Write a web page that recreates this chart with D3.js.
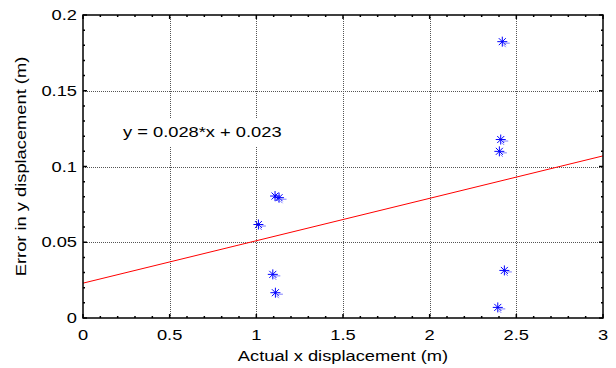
<!DOCTYPE html>
<html>
<head>
<meta charset="utf-8">
<script src="https://cdn.jsdelivr.net/npm/d3@7"></script>
<style>
  body { margin: 0; background: #fff; }
  text { font-family: Arial, "Liberation Sans", sans-serif; fill: #000; }
</style>
</head>
<body>
<div id="chart"></div>
<script>
// measured points (actual x displacement, error in y)
const xVals = [2.419, 2.410, 2.402, 2.431, 2.393, 1.108, 1.131, 1.012, 1.095, 1.110];
const yVals = [0.1824, 0.1178, 0.110, 0.0314, 0.0070, 0.0805, 0.0794, 0.0617, 0.0288, 0.0167];

// linear fit
const slope = 0.028;
const intercept = 0.023;
const fitLabel = 'y = 0.028*x + 0.023';

const xTicks = [0, 0.5, 1, 1.5, 2, 2.5, 3];
const yTicks = [0, 0.05, 0.1, 0.15, 0.2];
const xMinor = d3.range(0, 3.0001, 0.1);
const yMinor = d3.range(0, 0.2001, 0.01);

const width = 616, height = 368;
const margin = { left: 83, right: 13, top: 15, bottom: 50 };
const stretch = 1.22; // the original text is a bit wide

const svg = d3.select('#chart').append('svg')
  .attr('width', width)
  .attr('height', height);

const x = d3.scaleLinear().domain([0, 3]).range([margin.left, width - margin.right]);
const y = d3.scaleLinear().domain([0, 0.2]).range([height - margin.bottom, margin.top]);

const x0 = x.range()[0], x1 = x.range()[1];
const y0 = y.range()[0], y1 = y.range()[1];

// grid
const grid = svg.append('g')
  .attr('stroke', '#555')
  .attr('stroke-width', 1)
  .attr('stroke-dasharray', '1,1');
grid.selectAll('line.gx')
  .data(xTicks.slice(1, -1))
  .enter().append('line')
  .attr('x1', d => Math.round(x(d)) + 0.5).attr('x2', d => Math.round(x(d)) + 0.5)
  .attr('y1', y1).attr('y2', y0);
grid.selectAll('line.gy')
  .data(yTicks.slice(1, -1))
  .enter().append('line')
  .attr('y1', d => Math.round(y(d)) + 0.5).attr('y2', d => Math.round(y(d)) + 0.5)
  .attr('x1', x0).attr('x2', x1);

// fit line
svg.append('line')
  .attr('x1', x(0)).attr('y1', y(intercept))
  .attr('x2', x(3)).attr('y2', y(slope * 3 + intercept))
  .attr('stroke', '#ff0000')
  .attr('stroke-width', 1);

// asterisk markers
const pts = xVals.map((v, i) => ({ x: v, y: yVals[i] }));
const r = 5;
const marks = svg.append('g')
  .attr('stroke', '#0000ff')
  .attr('stroke-width', 1)
  .selectAll('g')
  .data(pts)
  .enter().append('g')
  .attr('transform', d => `translate(${x(d.x)},${y(d.y)})`);
marks.append('path')
  .attr('d', `M${-r},0H${r}M0,${-r}V${r}M${-r * 0.7},${-r * 0.7}L${r * 0.7},${r * 0.7}M${-r * 0.7},${r * 0.7}L${r * 0.7},${-r * 0.7}`);
marks.append('path')
  .attr('opacity', 0.5)
  .attr('d', `M${r * 0.4},${r * 0.3}H${r * 1.5}M${r * 0.2},${r * 0.6}L${r * 0.7},${r * 1.1}`);

// equation label with white box
const lbl = svg.append('g');
lbl.append('rect')
  .attr('x', 119).attr('y', 119)
  .attr('width', 170).attr('height', 27)
  .attr('fill', '#fff');
lbl.append('text')
  .attr('transform', `translate(123,137) scale(${stretch},1)`)
  .attr('font-size', 15)
  .text(fitLabel);

// axes box with ticks on all sides
const tickLen = 4, minorLen = 2;
const axes = svg.append('g').attr('stroke', '#000');
axes.append('rect')
  .attr('x', x0).attr('y', y1)
  .attr('width', x1 - x0).attr('height', y0 - y1)
  .attr('fill', 'none')
  .attr('stroke-width', 1.5);

const tickPath = [];
xMinor.forEach(v => {
  const px = x(v);
  tickPath.push(`M${px},${y0}v${-minorLen}`, `M${px},${y1}v${minorLen}`);
});
yMinor.forEach(v => {
  const py = y(v);
  tickPath.push(`M${x0},${py}h${minorLen}`, `M${x1},${py}h${-minorLen}`);
});
xTicks.forEach(v => {
  const px = x(v);
  tickPath.push(`M${px},${y0}v${-tickLen}`, `M${px},${y1}v${tickLen}`);
});
yTicks.forEach(v => {
  const py = y(v);
  tickPath.push(`M${x0},${py}h${tickLen}`, `M${x1},${py}h${-tickLen}`);
});
axes.append('path')
  .attr('d', tickPath.join(''))
  .attr('stroke-width', 1.5)
  .attr('fill', 'none');

// tick labels
svg.append('g').selectAll('text')
  .data(xTicks)
  .enter().append('text')
  .attr('transform', d => `translate(${x(d)},${y0 + 22}) scale(${stretch},1)`)
  .attr('text-anchor', 'middle')
  .attr('font-size', 15)
  .text(d => d3.format('~g')(d));

svg.append('g').selectAll('text')
  .data(yTicks)
  .enter().append('text')
  .attr('transform', d => `translate(${x0 - 6},${y(d) + 5}) scale(${stretch},1)`)
  .attr('text-anchor', 'end')
  .attr('font-size', 15)
  .text(d => d3.format('~g')(d));

// axis titles
svg.append('text')
  .attr('transform', `translate(${(x0 + x1) / 2},361) scale(${stretch},1)`)
  .attr('text-anchor', 'middle')
  .attr('font-size', 15)
  .text('Actual x displacement (m)');

svg.append('text')
  .attr('transform', `translate(26,${(y0 + y1) / 2}) rotate(-90) scale(${stretch},1)`)
  .attr('text-anchor', 'middle')
  .attr('font-size', 15)
  .text('Error in y displacement (m)');
</script>
</body>
</html>
